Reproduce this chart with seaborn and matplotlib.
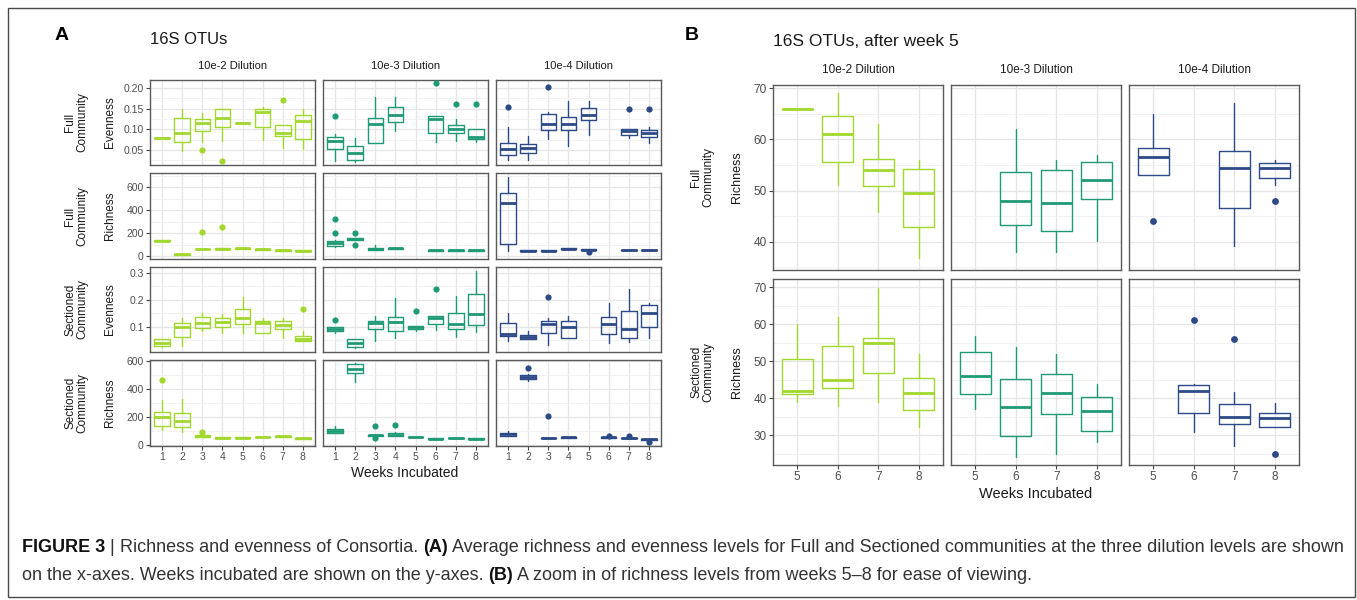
import numpy as np
import matplotlib
matplotlib.use("Agg")
import matplotlib.pyplot as plt
import seaborn as sns
from matplotlib.patches import Rectangle
from matplotlib.ticker import MultipleLocator, FormatStrFormatter
from matplotlib import font_manager

# ---------------- data ----------------
weeks_A = [1, 2, 3, 4, 5, 6, 7, 8]
weeks_B = [5, 6, 7, 8]
dilutions = ["10e-2 Dilution", "10e-3 Dilution", "10e-4 Dilution"]
row_groups_A = ["Full\nCommunity", "Full\nCommunity", "Sectioned\nCommunity", "Sectioned\nCommunity"]
row_metrics_A = ["Evenness", "Richness", "Evenness", "Richness"]
row_groups_B = ["Full\nCommunity", "Sectioned\nCommunity"]
dil_colors = ["#A2D82E", "#1F9A76", "#2B4A86"]

# Panel A, Full community, Evenness  (None = no samples that week)
fe2_lo  = [.079, .048, .069, .072, .115, .075, .055, .052]
fe2_q1  = [.079, .069, .096, .106, .115, .105, .085, .077]
fe2_med = [.079, .091, .116, .128, .115, .142, .092, .119]
fe2_q3  = [.079, .127, .126, .148, .115, .149, .110, .135]
fe2_hi  = [.079, .149, .140, .148, .115, .154, .110, .150]
fe2_out = [[], [], [.051], [.023], [], [], [.170], []]

fe3_lo  = [.024, .021, .068, .096, None, .069, .072, .069]
fe3_q1  = [.052, .027, .068, .118, None, .092, .090, .076]
fe3_med = [.072, .043, .113, .135, None, .125, .100, .081]
fe3_q3  = [.081, .060, .128, .154, None, .132, .111, .102]
fe3_hi  = [.088, .078, .179, .177, None, .132, .125, .102]
fe3_out = [[.132], [], [], [], [], [.211], [.160], [.162]]

fe4_lo  = [.027, .027, .076, .060, .086, None, .080, .067]
fe4_q1  = [.039, .042, .098, .098, .123, None, .086, .082]
fe4_med = [.052, .055, .113, .113, .135, None, .096, .090]
fe4_q3  = [.068, .064, .137, .129, .152, None, .100, .098]
fe4_hi  = [.105, .085, .143, .169, .169, None, .100, .105]
fe4_out = [[.155], [], [.202], [], [], [], [.149], [.148]]

# Panel A, Full community, Richness
fr2_lo  = [133, 15, 58, 61, 64, 55, 46, 43]
fr2_q1  = [131, 13, 58, 61, 64, 55, 46, 43]
fr2_med = [133, 15, 61, 64, 67, 58, 49, 46]
fr2_q3  = [135, 17, 64, 67, 69, 61, 52, 49]
fr2_hi  = [135, 17, 64, 67, 69, 61, 52, 49]
fr2_out = [[], [], [206], [252], [], [], [], []]

fr3_lo  = [80, 139, 49, 58, None, 46, 46, 46]
fr3_q1  = [87, 139, 52, 60, None, 46, 46, 46]
fr3_med = [110, 151, 64, 67, None, 49, 49, 49]
fr3_q3  = [130, 160, 72, 73, None, 52, 52, 52]
fr3_hi  = [140, 160, 96, 75, None, 52, 52, 52]
fr3_out = [[203, 325], [197, 96], [], [], [], [], [], []]

fr4_lo  = [46, 43, 43, 55, 52, None, 49, 49]
fr4_q1  = [104, 43, 43, 58, 52, None, 49, 49]
fr4_med = [464, 46, 46, 64, 55, None, 52, 52]
fr4_q3  = [551, 49, 49, 70, 58, None, 55, 55]
fr4_hi  = [687, 49, 49, 72, 58, None, 55, 55]
fr4_out = [[], [], [], [], [35], [], [], []]

# Panel A, Sectioned community, Evenness
se2_lo  = [.026, .030, .083, .079, .077, .077, .058, .046]
se2_q1  = [.030, .064, .095, .101, .111, .077, .091, .046]
se2_med = [.042, .101, .114, .120, .132, .114, .107, .054]
se2_q3  = [.054, .114, .135, .132, .165, .123, .122, .067]
se2_hi  = [.057, .132, .151, .148, .209, .132, .132, .083]
se2_out = [[], [], [], [], [], [], [], [.167]]

se3_lo  = [.077, .020, .048, .058, .083, .089, .064, .080]
se3_q1  = [.083, .027, .091, .083, .091, .111, .091, .107]
se3_med = [.091, .042, .114, .117, .099, .132, .111, .148]
se3_q3  = [.098, .054, .123, .135, .104, .141, .151, .221]
se3_hi  = [.098, .056, .141, .206, .104, .141, .215, .309]
se3_out = [[.125], [], [], [], [.159], [.241], [], []]

se4_lo  = [.046, .054, .033, .058, None, .040, .045, .060]
se4_q1  = [.067, .056, .079, .058, None, .074, .058, .100]
se4_med = [.074, .064, .111, .101, None, .110, .094, .150]
se4_q3  = [.114, .070, .123, .122, None, .138, .160, .180]
se4_hi  = [.151, .083, .132, .141, None, .190, .242, .190]
se4_out = [[], [], [.210], [], [], [], [], []]

# Panel A, Sectioned community, Richness
sr2_lo  = [108, 94, 54, 46, 46, 51, 56, 42]
sr2_q1  = [132, 125, 56, 46, 46, 51, 56, 42]
sr2_med = [196, 172, 64, 49, 49, 54, 59, 45]
sr2_q3  = [236, 226, 69, 52, 52, 57, 62, 48]
sr2_hi  = [321, 325, 71, 52, 52, 57, 62, 48]
sr2_out = [[462], [], [94], [], [], [], [], []]

sr3_lo  = [80, 448, 58, 59, 51, 39, 44, 39]
sr3_q1  = [84, 514, 60, 62, 51, 39, 44, 39]
sr3_med = [99, 542, 66, 71, 54, 42, 47, 42]
sr3_q3  = [112, 577, 72, 86, 57, 45, 50, 45]
sr3_hi  = [137, 589, 75, 90, 57, 45, 50, 45]
sr3_out = [[], [], [130, 49], [141], [], [], [], []]

sr4_lo  = [59, 455, 44, 48, None, 45, 42, 34]
sr4_q1  = [62, 474, 44, 48, None, 48, 44, 35]
sr4_med = [73, 486, 47, 52, None, 52, 47, 38]
sr4_q3  = [82, 500, 50, 56, None, 56, 50, 41]
sr4_hi  = [101, 505, 50, 56, None, 56, 50, 41]
sr4_out = [[], [549], [203], [], [], [62], [60], [22]]

# Panel B, Full community, Richness (weeks 5-8)
bf2_lo  = [66.0, 51.1, 45.9, 36.9]
bf2_q1  = [66.0, 55.5, 50.8, 42.9]
bf2_med = [66.0, 61.0, 54.0, 49.5]
bf2_q3  = [66.0, 64.5, 56.1, 54.2]
bf2_hi  = [66.0, 69.1, 63.0, 56.0]
bf2_out = [[], [], [], []]

bf3_lo  = [None, 38.0, 38.0, 40.1]
bf3_q1  = [None, 43.2, 42.2, 48.4]
bf3_med = [None, 48.0, 47.5, 52.1]
bf3_q3  = [None, 53.6, 54.0, 55.5]
bf3_hi  = [None, 62.0, 56.0, 56.9]
bf3_out = [[], [], [], []]

bf4_lo  = [53.1, None, 39.1, 51.0]
bf4_q1  = [53.1, None, 46.6, 52.4]
bf4_med = [56.6, None, 54.4, 54.4]
bf4_q3  = [58.3, None, 57.8, 55.3]
bf4_hi  = [65.0, None, 67.0, 56.0]
bf4_out = [[44.0], [], [], [47.9]]

# Panel B, Sectioned community, Richness (weeks 5-8)
bs2_lo  = [39.0, 37.9, 39.0, 32.1]
bs2_q1  = [41.0, 42.6, 46.7, 36.9]
bs2_med = [42.0, 45.0, 55.0, 41.4]
bs2_q3  = [50.5, 54.0, 56.2, 45.5]
bs2_hi  = [59.9, 61.8, 69.9, 51.9]
bs2_out = [[], [], [], []]

bs3_lo  = [37.0, 24.1, 25.0, 28.1]
bs3_q1  = [41.0, 29.8, 35.7, 31.2]
bs3_med = [46.0, 37.5, 41.5, 36.5]
bs3_q3  = [52.5, 45.2, 46.5, 40.2]
bs3_hi  = [56.8, 53.9, 51.8, 43.8]
bs3_out = [[], [], [], []]

bs4_lo  = [None, 30.9, 27.1, 32.3]
bs4_q1  = [None, 35.9, 33.0, 32.3]
bs4_med = [None, 42.0, 35.0, 34.5]
bs4_q3  = [None, 43.5, 38.5, 36.0]
bs4_hi  = [None, 43.9, 41.7, 38.8]
bs4_out = [[], [61.0], [56.0], [25.0]]

caption_line1 = [("FIGURE 3", True), (" | ", False), ("Richness and evenness of Consortia. ", False), ("(A)", True),
                 (" Average richness and evenness levels for Full and Sectioned communities at the three dilution levels are shown", False)]
caption_line2 = [("on the x-axes. Weeks incubated are shown on the y-axes. ", False), ("(B)", True),
                 (" A zoom in of richness levels from weeks 5\u20138 for ease of viewing.", False)]

# ---------------- figure ----------------
W, H = 1357, 600
sns.set_theme(style="white")
plt.rcParams['font.family'] = ['Liberation Sans', 'DejaVu Sans']
names = {f.name for f in font_manager.fontManager.ttflist}
cap_font = 'Liberation Sans Narrow' if 'Liberation Sans Narrow' in names else 'Liberation Sans'

fig = plt.figure(figsize=(W / 100, H / 100), dpi=100)
fig.patch.set_facecolor("white")


def fx(x):
    return x / W


def fy(y):
    return 1 - y / H


def px_axes(x0, y0, x1, y1):
    return fig.add_axes([x0 / W, 1 - y1 / H, (x1 - x0) / W, (y1 - y0) / H])


def draw_boxes(ax, weeks, lo, q1, med, q3, hi, out, color, msize):
    stats, pos = [], []
    for i, w in enumerate(weeks):
        if med[i] is None:
            continue
        stats.append(dict(whislo=lo[i], q1=q1[i], med=med[i], q3=q3[i], whishi=hi[i], fliers=[]))
        pos.append(w)
    ax.bxp(stats, positions=pos, widths=0.77, showcaps=False, showfliers=False,
           manage_ticks=False,
           boxprops=dict(color=color, lw=1.0),
           whiskerprops=dict(color=color, lw=1.0),
           medianprops=dict(color=color, lw=2.0, solid_capstyle='butt'))
    ox, oy = [], []
    for i, w in enumerate(weeks):
        for v in out[i]:
            ox.append(w)
            oy.append(v)
    if ox:
        sns.scatterplot(x=ox, y=oy, ax=ax, color=color, s=msize, edgecolor=color,
                        linewidth=0, zorder=5, legend=False)
    ax.set_xlabel("")
    ax.set_ylabel("")


def style_axes(ax, ylim, major, fmt, xlim, xticks, show_x, show_y, tsize):
    ax.set_xlim(xlim)
    ax.set_ylim(ylim)
    ax.yaxis.set_major_locator(MultipleLocator(major))
    ax.yaxis.set_minor_locator(MultipleLocator(major / 2))
    ax.yaxis.set_major_formatter(FormatStrFormatter(fmt))
    ax.set_xticks(xticks)
    ax.set_xticklabels([str(x) for x in xticks])
    ax.set_facecolor("white")
    ax.grid(False)
    ax.grid(which='major', color='#E6E6E6', lw=0.9)
    ax.grid(which='minor', axis='y', color='#F0F0F0', lw=0.6)
    ax.set_axisbelow(True)
    for s in ax.spines.values():
        s.set_visible(True)
        s.set_color('#5A5A5A')
        s.set_linewidth(1.0)
    ax.tick_params(axis='both', which='major', length=3, width=0.8, color='#444444',
                   labelcolor='#4D4D4D', labelsize=tsize, pad=1.5,
                   left=show_y, labelleft=show_y, bottom=show_x, labelbottom=show_x)
    ax.tick_params(which='minor', length=0)


# ---- Panel A ----
colsA = [(150, 315), (323, 488), (496, 661)]
rowsA = [(80, 165), (173, 259), (267, 352), (360, 446)]
ylimsA = [(0.014, 0.219), (-26, 722), (0.007, 0.322), (-10, 607)]
majorsA = [0.05, 200, 0.1, 200]
fmtsA = ['%.2f', '%d', '%.1f', '%d']
dataA = [
    [(fe2_lo, fe2_q1, fe2_med, fe2_q3, fe2_hi, fe2_out),
     (fe3_lo, fe3_q1, fe3_med, fe3_q3, fe3_hi, fe3_out),
     (fe4_lo, fe4_q1, fe4_med, fe4_q3, fe4_hi, fe4_out)],
    [(fr2_lo, fr2_q1, fr2_med, fr2_q3, fr2_hi, fr2_out),
     (fr3_lo, fr3_q1, fr3_med, fr3_q3, fr3_hi, fr3_out),
     (fr4_lo, fr4_q1, fr4_med, fr4_q3, fr4_hi, fr4_out)],
    [(se2_lo, se2_q1, se2_med, se2_q3, se2_hi, se2_out),
     (se3_lo, se3_q1, se3_med, se3_q3, se3_hi, se3_out),
     (se4_lo, se4_q1, se4_med, se4_q3, se4_hi, se4_out)],
    [(sr2_lo, sr2_q1, sr2_med, sr2_q3, sr2_hi, sr2_out),
     (sr3_lo, sr3_q1, sr3_med, sr3_q3, sr3_hi, sr3_out),
     (sr4_lo, sr4_q1, sr4_med, sr4_q3, sr4_hi, sr4_out)],
]
for r, (y0, y1) in enumerate(rowsA):
    for c, (x0, x1) in enumerate(colsA):
        ax = px_axes(x0, y0, x1, y1)
        draw_boxes(ax, weeks_A, *dataA[r][c], dil_colors[c], 20)
        style_axes(ax, ylimsA[r], majorsA[r], fmtsA[r], (0.4, 8.6), weeks_A,
                   r == 3, c == 0, 7.5)
    yc = (y0 + y1) / 2
    fig.text(fx(76), fy(yc), row_groups_A[r], rotation=90, ha='center', va='center',
             fontsize=8.5, color='#1A1A1A', linespacing=1.0)
    fig.text(fx(110), fy(yc), row_metrics_A[r], rotation=90, ha='center', va='center',
             fontsize=8.5, color='#1A1A1A')
for c, (x0, x1) in enumerate(colsA):
    fig.text(fx((x0 + x1) / 2), fy(66), dilutions[c], ha='center', va='center',
             fontsize=8, color='#1A1A1A')
fig.text(fx(405), fy(473), "Weeks Incubated", ha='center', va='center', fontsize=10, color='#1A1A1A')
fig.text(fx(150), fy(40), "16S OTUs", ha='left', va='center', fontsize=12, color='#1A1A1A')
fig.text(fx(55), fy(35), "A", ha='left', va='center', fontsize=14, fontweight='bold', color='black')

# ---- Panel B ----
colsB = [(773, 943), (951, 1121), (1129, 1299)]
rowsB = [(85, 270), (279, 465)]
ylimsB = [(34.5, 70.6), (21.9, 72.2)]
dataB = [
    [(bf2_lo, bf2_q1, bf2_med, bf2_q3, bf2_hi, bf2_out),
     (bf3_lo, bf3_q1, bf3_med, bf3_q3, bf3_hi, bf3_out),
     (bf4_lo, bf4_q1, bf4_med, bf4_q3, bf4_hi, bf4_out)],
    [(bs2_lo, bs2_q1, bs2_med, bs2_q3, bs2_hi, bs2_out),
     (bs3_lo, bs3_q1, bs3_med, bs3_q3, bs3_hi, bs3_out),
     (bs4_lo, bs4_q1, bs4_med, bs4_q3, bs4_hi, bs4_out)],
]
for r, (y0, y1) in enumerate(rowsB):
    for c, (x0, x1) in enumerate(colsB):
        ax = px_axes(x0, y0, x1, y1)
        draw_boxes(ax, weeks_B, *dataB[r][c], dil_colors[c], 24)
        style_axes(ax, ylimsB[r], 10, '%d', (4.4, 8.6), weeks_B, r == 1, c == 0, 8.5)
    yc = (y0 + y1) / 2
    fig.text(fx(702), fy(yc), row_groups_B[r], rotation=90, ha='center', va='center',
             fontsize=8.5, color='#1A1A1A', linespacing=1.0)
    fig.text(fx(737), fy(yc), "Richness", rotation=90, ha='center', va='center',
             fontsize=9, color='#1A1A1A')
for c, (x0, x1) in enumerate(colsB):
    fig.text(fx((x0 + x1) / 2), fy(70), dilutions[c], ha='center', va='center',
             fontsize=8.5, color='#1A1A1A')
fig.text(fx(1036), fy(494), "Weeks Incubated", ha='center', va='center', fontsize=10.5, color='#1A1A1A')
fig.text(fx(773), fy(41), "16S OTUs, after week 5", ha='left', va='center', fontsize=12.5, color='#1A1A1A')
fig.text(fx(685), fy(35), "B", ha='left', va='center', fontsize=14, fontweight='bold', color='black')

# ---- frame ----
fig.add_artist(Rectangle((fx(8), fy(597)), (1355 - 8) / W, (597 - 8) / H, transform=fig.transFigure,
                         fill=False, edgecolor='#4A4A4A', lw=1.0))

# ---- caption ----
renderer = fig.canvas.get_renderer()


def line_width(runs, size):
    tot = 0
    for s, b in runs:
        t = fig.text(0, 0, s, fontsize=size, family=cap_font, fontweight='bold' if b else 'normal')
        tot += t.get_window_extent(renderer).width
        t.remove()
    return tot


base = 11.0
wl = line_width(caption_line1, base)
cap_size = base * (1342 - 22) / wl


def place(runs, y, size):
    x = 22.0
    for s, b in runs:
        t = fig.text(fx(x), fy(y), s, fontsize=size, family=cap_font,
                     fontweight='bold' if b else 'normal', ha='left', va='center',
                     color='#111111' if b else '#333333')
        x += t.get_window_extent(renderer).width


place(caption_line1, 547, cap_size)
place(caption_line2, 576, cap_size)

fig.savefig("out.png", dpi=100, facecolor="white")
